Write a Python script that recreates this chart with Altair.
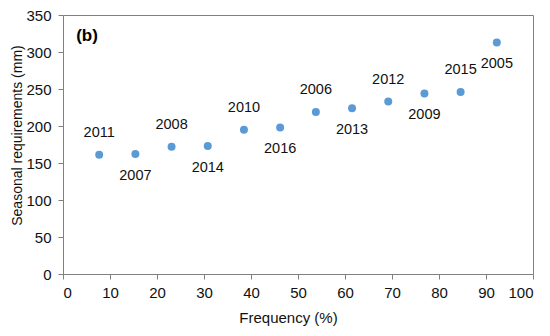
import altair as alt
import pandas as pd

years = ["2011", "2007", "2008", "2014", "2010", "2016", "2006", "2013", "2012", "2009", "2015", "2005"]
frequency = [7.7, 15.4, 23.1, 30.8, 38.5, 46.2, 53.8, 61.5, 69.2, 76.9, 84.6, 92.3]
requirement = [161, 162, 172, 173, 195, 198, 219, 224, 233, 244, 246, 313]
label_pos = ["above", "below", "above", "below", "above", "below", "above", "below", "above", "below", "above", "below"]

df = pd.DataFrame({"year": years, "freq": frequency, "req": requirement, "pos": label_pos})

x_scale = alt.Scale(domain=[0, 100], nice=False)
y_scale = alt.Scale(domain=[0, 350], nice=False)
FONT = "Liberation Sans"

x_axis = alt.Axis(title="Frequency (%)", values=list(range(0, 101, 10)), grid=False,
                  tickSize=5, labelPadding=6, titlePadding=10, labelOverlap=False,
                  labelFontSize=15, titleFontSize=15, titleFontWeight="normal",
                  titleX=225, titleAlign="center")
y_axis = alt.Axis(title="Seasonal requirements (mm)", values=list(range(0, 351, 50)), grid=False,
                  tickSize=5, labelPadding=7, titlePadding=1, labelOverlap=False,
                  labelFontSize=15, titleFontSize=14, titleFontWeight="normal",
                  titleY=120, titleAlign="center")

base = alt.Chart(df).encode(
    x=alt.X("freq:Q", scale=x_scale, axis=x_axis),
    y=alt.Y("req:Q", scale=y_scale, axis=y_axis),
)

points = base.mark_circle(size=64, color="#5B9BD5", opacity=1)

above = base.transform_filter(alt.datum.pos == "above").mark_text(
    dy=-22, fontSize=14.5, font=FONT, color="#111").encode(text="year:N")
below = base.transform_filter(alt.datum.pos == "below").mark_text(
    dy=22, fontSize=14.5, font=FONT, color="#111").encode(text="year:N")

panel_df = pd.DataFrame({"freq": [2.8], "req": [322], "txt": ["(b)"]})
panel = alt.Chart(panel_df).mark_text(align="left", baseline="middle", fontSize=17,
                                      fontWeight="bold", font=FONT, color="#000").encode(
    x=alt.X("freq:Q", scale=x_scale, axis=x_axis),
    y=alt.Y("req:Q", scale=y_scale, axis=y_axis),
    text="txt:N")

chart = alt.layer(points, above, below, panel).properties(
    width=470, height=259,
    autosize=alt.AutoSizeParams(type="none"),
    padding={"left": 55, "top": 7, "right": 9, "bottom": 54},
).configure_view(stroke="#808080", strokeWidth=1).configure_axis(
    domainColor="#808080", tickColor="#808080", labelColor="#111", titleColor="#111",
    labelFont=FONT, titleFont=FONT,
)

chart.save("out.html", embed_options={"renderer": "svg", "actions": False})
